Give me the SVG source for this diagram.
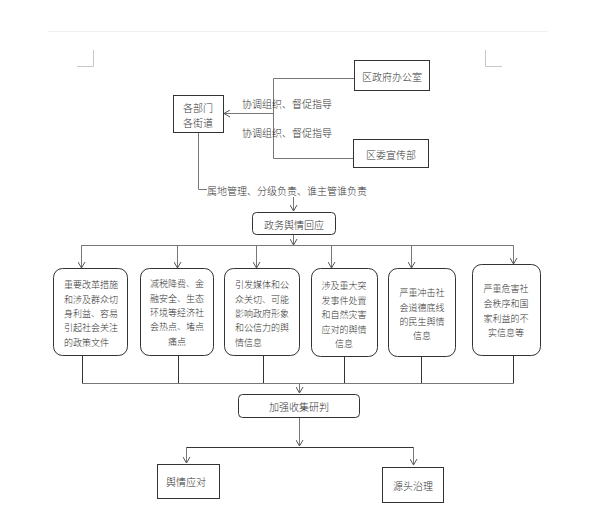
<svg xmlns="http://www.w3.org/2000/svg" width="596" height="517" viewBox="0 0 596 517">
<style>
text{font-family:"Noto Sans CJK SC","Microsoft YaHei",sans-serif;font-size:10px;fill:#333;font-weight:300;dominant-baseline:central}
.s{font-size:9px}
.c{text-anchor:middle}
.box{fill:#fff;stroke:#333;stroke-width:1}
.ln{fill:none;stroke:#777;stroke-width:1}
.dk{fill:none;stroke:#333;stroke-width:1}
</style>
<defs>
<marker id="a" markerWidth="8" markerHeight="8" refX="7" refY="4" orient="auto" markerUnits="userSpaceOnUse">
<path d="M1,0.5 L7,4 L1,7.5" fill="none" stroke="#555" stroke-width="1"/>
</marker>
</defs>
<rect width="596" height="517" fill="#fff"/>
<g id="page-marks" fill="none" stroke="#c8c8c8" stroke-width="1">
<path d="M48,31.5 H548" stroke="#f0f0f0"/>
<path d="M93.5,50 V66.5 H77"/>
<path d="M485.5,50 V66.5 H502"/>
</g>
<g id="connectors">
<path class="ln" d="M354,78.5 H273.5 V158.5 H353"/>
<path class="ln" d="M273.5,113.5 H224" marker-end="url(#a)"/>
<path class="ln" d="M198.5,132 V189.5 H207"/>
<path class="ln" d="M293.5,197 V211" marker-end="url(#a)"/>
<path class="ln" d="M293.5,234 V245" marker-end="url(#a)"/>
<path class="ln" d="M81.5,268 V245.5 H513.5 V264"/>
<path class="ln" d="M177.5,245.5 V268" marker-end="url(#a)"/>
<path class="ln" d="M256.5,245.5 V268" marker-end="url(#a)"/>
<path class="ln" d="M331.5,245.5 V268" marker-end="url(#a)"/>
<path class="ln" d="M411.5,245.5 V268" marker-end="url(#a)"/>
<path class="ln" d="M81.5,245.5 V268" marker-end="url(#a)"/>
<path class="ln" d="M513.5,245.5 V264" marker-end="url(#a)"/>
<path class="dk" d="M82.5,355 V383.5 M178.5,355 V383.5 M263.5,355 V383.5 M344.5,356 V383.5 M421.5,356 V383.5 M513.5,355 V383.5"/>
<path class="ln" d="M82,383.5 H513.5"/>
<path class="ln" d="M299.5,383.5 V393" marker-end="url(#a)"/>
<path class="ln" d="M299.5,417 V446" marker-end="url(#a)"/>
<path class="dk" d="M186.5,463 V447.5 H413.5 V465"/>
<path class="ln" d="M186.5,447.5 V463" marker-end="url(#a)"/>
<path class="ln" d="M413.5,447.5 V465" marker-end="url(#a)"/>
</g>
<g id="labels">
<text x="242" y="103">协调组织、督促指导</text>
<text x="242" y="132">协调组织、督促指导</text>
<text x="207" y="190">属地管理、分级负责、谁主管谁负责</text>
</g>
<g id="qzf">
<rect class="box" x="354.5" y="60.5" width="75" height="30"/>
<text class="c" x="392" y="76">区政府办公室</text>
</g>
<g id="qwxcb">
<rect class="box" x="353.5" y="139.5" width="75" height="28"/>
<text class="c" x="391" y="154">区委宣传部</text>
</g>
<g id="gbm">
<rect class="box" x="173.5" y="95.5" width="50" height="37"/>
<text class="c" x="198" y="107">各部门</text>
<text class="c" x="198" y="122">各街道</text>
</g>
<g id="zwyqhy">
<rect class="box" x="252.5" y="212.5" width="83" height="22" rx="4"/>
<text class="c" x="294" y="224">政务舆情回应</text>
</g>
<g id="b1">
<rect class="box" x="53.5" y="268.5" width="74" height="87" rx="9"/>
<text class="s" x="64" y="284">重要改革措施</text>
<text class="s" x="64" y="299">和涉及群众切</text>
<text class="s" x="64" y="313">身利益、容易</text>
<text class="s" x="64" y="327">引起社会关注</text>
<text class="s" x="64" y="342">的政策文件</text>
</g>
<g id="b2">
<rect class="box" x="140.5" y="268.5" width="73" height="87" rx="9"/>
<text class="s c" x="177" y="283">减税降费、金</text>
<text class="s c" x="177" y="298">融安全、生态</text>
<text class="s c" x="177" y="312">环境等经济社</text>
<text class="s c" x="177" y="326">会热点、堵点</text>
<text class="s c" x="177" y="341">痛点</text>
</g>
<g id="b3">
<rect class="box" x="224.5" y="268.5" width="75" height="87" rx="9"/>
<text class="s" x="235" y="284">引发媒体和公</text>
<text class="s" x="235" y="299">众关切、可能</text>
<text class="s" x="235" y="313">影响政府形象</text>
<text class="s" x="235" y="327">和公信力的舆</text>
<text class="s" x="235" y="342">情信息</text>
</g>
<g id="b4">
<rect class="box" x="311.5" y="268.5" width="66" height="88" rx="9"/>
<text class="s c" x="344" y="285">涉及重大突</text>
<text class="s c" x="344" y="300">发事件处置</text>
<text class="s c" x="344" y="314">和自然灾害</text>
<text class="s c" x="344" y="329">应对的舆情</text>
<text class="s c" x="344" y="343">信息</text>
</g>
<g id="b5">
<rect class="box" x="388.5" y="268.5" width="67" height="88" rx="9"/>
<text class="s c" x="422" y="292">严重冲击社</text>
<text class="s c" x="422" y="307">会道德底线</text>
<text class="s c" x="422" y="321">的民生舆情</text>
<text class="s c" x="422" y="335">信息</text>
</g>
<g id="b6">
<rect class="box" x="472.5" y="264.5" width="68" height="91" rx="9"/>
<text class="s c" x="506" y="288">严重危害社</text>
<text class="s c" x="506" y="303">会秩序和国</text>
<text class="s c" x="506" y="318">家利益的不</text>
<text class="s c" x="506" y="332">实信息等</text>
</g>
<g id="jqsj">
<rect class="box" x="238.5" y="394.5" width="121" height="23" rx="4"/>
<text class="c" x="299" y="406">加强收集研判</text>
</g>
<g id="yqyd">
<rect class="box" x="157.5" y="464.5" width="62" height="34"/>
<text class="c" x="186" y="481">舆情应对</text>
</g>
<g id="ytzl">
<rect class="box" x="382.5" y="467.5" width="61" height="35"/>
<text class="c" x="413" y="485">源头治理</text>
</g>
</svg>
